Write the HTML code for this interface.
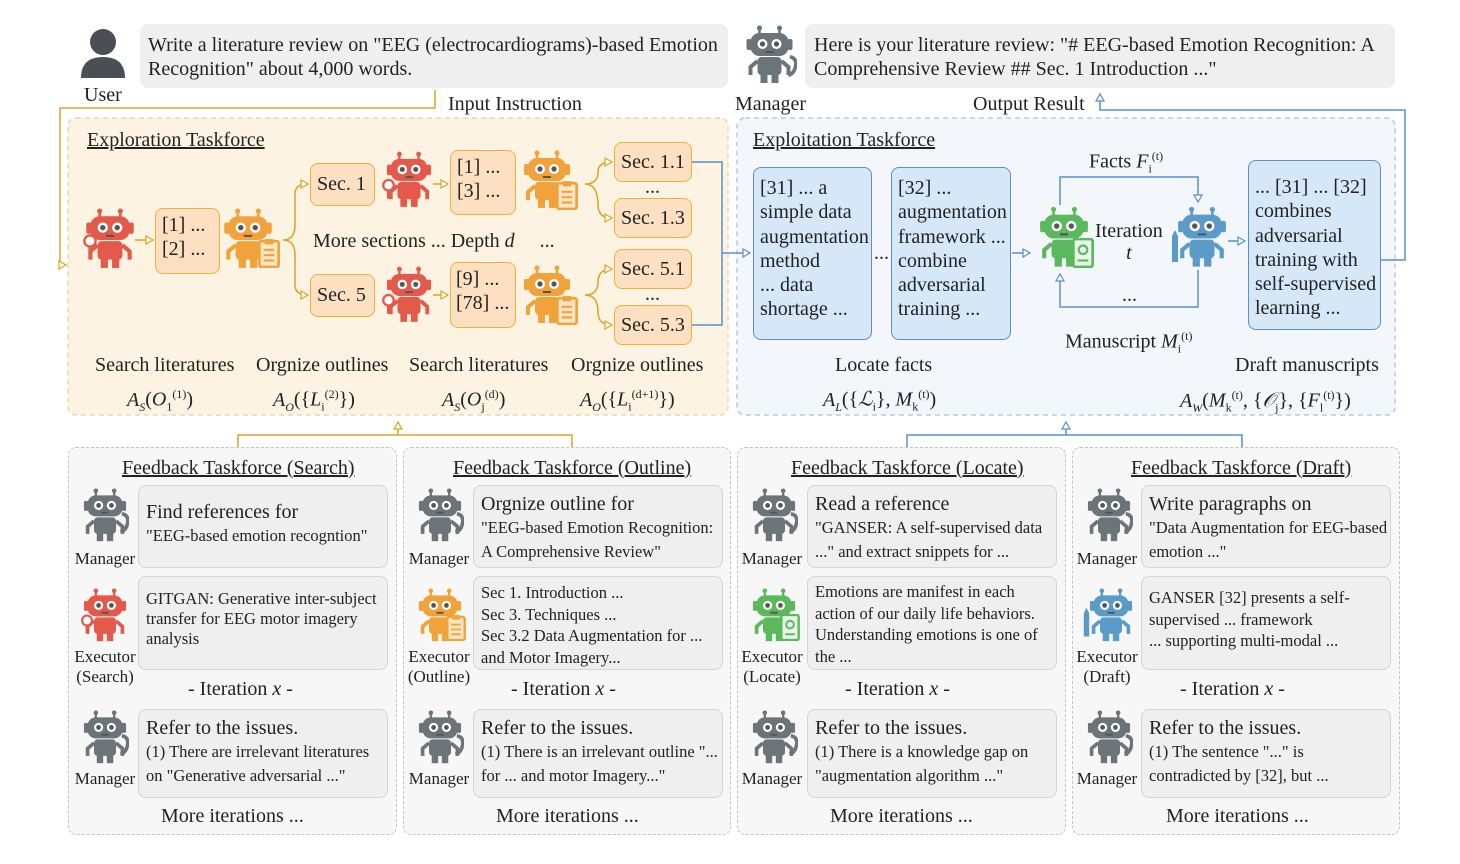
<!DOCTYPE html>
<html><head><meta charset="utf-8"><style>
body{margin:0;width:1460px;height:864px;background:#fff;position:relative;overflow:hidden;font-family:"Liberation Serif",serif;color:#222}
.a{position:absolute}
.t{position:absolute;white-space:nowrap;font-size:20px;line-height:22px}
.u{text-decoration:underline}
.ob{position:absolute;background:#fde0c2;border:1.5px solid #e8b23c;border-radius:8px;font-size:20px;line-height:24px;box-sizing:border-box;padding:4px 6px;white-space:nowrap}
.bb{position:absolute;background:#d6e7f8;border:1.5px solid #5b8fc9;border-radius:8px;font-size:20px;line-height:24.3px;box-sizing:border-box;padding:8px 6px;white-space:nowrap}
.gb{position:absolute;background:#efefef;border:1.5px solid #d4d4d4;border-radius:8px;box-sizing:border-box;padding:6px 7px;font-size:16.5px;line-height:24px;white-space:nowrap}
.gb b{font-weight:normal;font-size:20px;display:block;line-height:24px}
.fp{position:absolute;top:447px;height:388px;background:#f7f7f7;border:1.5px dashed #c4c4c4;border-radius:8px;box-sizing:border-box}
.lbl{position:absolute;font-size:17px;line-height:20px;text-align:center;width:70px}
i{font-style:italic}
sup,sub{font-size:12px}
</style></head><body>
<svg class="a" style="left:0;top:0" width="1460" height="864">
<defs>
<symbol id="r" viewBox="0 0 50 60">
<line x1="15" y1="2" x2="15" y2="9" stroke="currentColor" stroke-width="2.5"/><line x1="35" y1="2" x2="35" y2="9" stroke="currentColor" stroke-width="2.5"/>
<circle cx="15" cy="3" r="2.5" fill="currentColor"/><circle cx="35" cy="3" r="2.5" fill="currentColor"/>
<rect x="2" y="14" width="5" height="11" rx="2" fill="currentColor"/><rect x="43" y="14" width="5" height="11" rx="2" fill="currentColor"/>
<rect x="6" y="8" width="38" height="23" rx="9" fill="currentColor"/>
<circle cx="18" cy="19" r="5" fill="#fff"/><circle cx="32" cy="19" r="5" fill="#fff"/>
<circle cx="18" cy="19" r="2.6" fill="#555"/><circle cx="32" cy="19" r="2.6" fill="#555"/>
<rect x="21" y="26" width="8" height="2" fill="#555"/>
<rect x="13" y="32" width="24" height="18" rx="4" fill="currentColor"/>
<path d="M13 36 L6 42 L6 50 M37 36 L44 42 L44 50" stroke="currentColor" stroke-width="4" fill="none"/>
<rect x="16" y="49" width="7" height="9" fill="currentColor"/><rect x="27" y="49" width="7" height="9" fill="currentColor"/>
</symbol>
<symbol id="mag" viewBox="0 0 20 30"><circle cx="10" cy="10" r="7" fill="#fff" stroke="currentColor" stroke-width="3"/><rect x="8" y="17" width="4" height="11" fill="currentColor"/></symbol>
<symbol id="clip" viewBox="0 0 20 28"><rect x="1" y="3" width="18" height="24" rx="2" fill="#fde7c8" stroke="currentColor" stroke-width="2.5"/><rect x="6" y="1" width="8" height="5" fill="currentColor"/><path d="M5 11h10M5 16h10M5 21h10" stroke="currentColor" stroke-width="2"/></symbol>
<symbol id="ph" viewBox="0 0 14 30"><path d="M4 2 Q14 4 12 15 Q10 26 2 28" stroke="currentColor" stroke-width="5" fill="none"/></symbol>
<symbol id="doc" viewBox="0 0 20 28"><rect x="1" y="1" width="18" height="26" rx="2" fill="#e8f5e8" stroke="currentColor" stroke-width="2.5"/><circle cx="10" cy="11" r="4" fill="none" stroke="currentColor" stroke-width="2"/><path d="M5 21h10" stroke="currentColor" stroke-width="2"/></symbol>
<symbol id="pen" viewBox="0 0 10 34"><path d="M2 6 L5 0 L8 6 L8 32 L2 32Z" fill="currentColor"/></symbol>
<marker id="ao" markerWidth="10" markerHeight="10" refX="8" refY="5" orient="auto" markerUnits="userSpaceOnUse"><path d="M1 1 L8 5 L1 9Z" fill="#fff" stroke="#d9a520" stroke-width="1.2"/></marker>
<marker id="ab" markerWidth="10" markerHeight="10" refX="8" refY="5" orient="auto" markerUnits="userSpaceOnUse"><path d="M1 1 L8 5 L1 9Z" fill="#fff" stroke="#5b8fc9" stroke-width="1.2"/></marker>
</defs>
<rect x="68" y="118" width="660" height="297" rx="8" fill="#fdf3e2" stroke="#ead7ad" stroke-width="1.5" stroke-dasharray="5 4"/>
<rect x="737" y="118" width="658" height="297" rx="8" fill="#f3f6fb" stroke="#bccade" stroke-width="1.5" stroke-dasharray="5 4"/>
<rect x="140" y="24" width="588" height="64" rx="8" fill="#efefef"/>
<rect x="805" y="24" width="590" height="64" rx="8" fill="#efefef"/>
<circle cx="103" cy="42" r="13" fill="#4a4f55"/><path d="M81 78 Q81 57 103 57 Q125 57 125 78Z" fill="#4a4f55"/>
<use href="#r" x="742" y="25" width="55" height="60" color="#6b7479"/><use href="#ph" x="787" y="55" width="10" height="22" color="#6b7479"/>
<g fill="none" stroke="#d9a520" stroke-width="1.5">
<path d="M435 90 V108 H60 V265 H66" marker-end="url(#ao)"/>
<path d="M135 240 H153" marker-end="url(#ao)"/>
<path d="M283 240 Q295 240 295 225 V194 Q295 184 308 184" marker-end="url(#ao)"/>
<path d="M283 240 Q295 240 295 255 V285 Q295 295 308 295" marker-end="url(#ao)"/>
<path d="M433 184 H448" marker-end="url(#ao)"/><path d="M433 295 H448" marker-end="url(#ao)"/>
<path d="M585 184 Q598 184 598 172 Q598 162 612 162" marker-end="url(#ao)"/>
<path d="M585 184 Q598 184 598 205 Q598 218 612 218" marker-end="url(#ao)"/>
<path d="M585 295 Q598 295 598 282 Q598 269 612 269" marker-end="url(#ao)"/>
<path d="M585 295 Q598 295 598 312 Q598 325 612 325" marker-end="url(#ao)"/>
<path d="M238 447 V435 H572 V447"/><path d="M398 435 V422" marker-end="url(#ao)"/>
</g>
<g fill="none" stroke="#5b8fc9" stroke-width="1.5">
<path d="M692 162 H722 V325 H692"/><path d="M722 253 H750" marker-end="url(#ab)"/>
<path d="M1012 253 H1030" marker-end="url(#ab)"/>
<path d="M1060 205 V177 H1198 V202" marker-end="url(#ab)"/>
<path d="M1198 270 V307 H1060 V274" marker-end="url(#ab)"/>
<path d="M1228 241 H1245" marker-end="url(#ab)"/>
<path d="M1380 260 H1405 V110 H1100 V94" marker-end="url(#ab)"/>
<path d="M907 447 V435 H1242 V447"/><path d="M1066 435 V422" marker-end="url(#ab)"/>
</g>
<g>
<use href="#r" x="84" y="208" width="52" height="62" color="#e35a4a"/><use href="#mag" x="82" y="232" width="16" height="26" color="#e35a4a"/>
<use href="#r" x="222" y="208" width="52" height="62" color="#f2a23a"/><use href="#clip" x="258" y="238" width="22" height="30" color="#f2a23a"/>
<use href="#r" x="385" y="150" width="48" height="60" color="#e35a4a"/><use href="#mag" x="381" y="176" width="15" height="26" color="#e35a4a"/>
<use href="#r" x="385" y="265" width="48" height="60" color="#e35a4a"/><use href="#mag" x="381" y="291" width="15" height="26" color="#e35a4a"/>
<use href="#r" x="522" y="150" width="50" height="60" color="#f2a23a"/><use href="#clip" x="556" y="180" width="22" height="30" color="#f2a23a"/>
<use href="#r" x="522" y="265" width="50" height="60" color="#f2a23a"/><use href="#clip" x="556" y="295" width="22" height="30" color="#f2a23a"/>
<use href="#r" x="1038" y="205" width="52" height="65" color="#5cb85c"/><use href="#doc" x="1072" y="238" width="22" height="30" color="#5cb85c"/>
<use href="#r" x="1176" y="205" width="52" height="65" color="#5b9bc9"/><use href="#pen" x="1170" y="228" width="10" height="38" color="#5b9bc9"/>
</g>
</svg>
<div class="t" style="left:148px;top:34px">Write a literature review on "EEG (electrocardiograms)-based Emotion</div>
<div class="t" style="left:148px;top:58px">Recognition" about 4,000 words.</div>
<div class="t" style="left:84px;top:84px">User</div>
<div class="t" style="left:814px;top:34px">Here is your literature review: "# EEG-based Emotion Recognition: A</div>
<div class="t" style="left:814px;top:58px">Comprehensive Review ## Sec. 1 Introduction ..."</div>
<div class="t" style="left:735px;top:93px">Manager</div>
<div class="t" style="left:448px;top:93px">Input Instruction</div>
<div class="t" style="left:973px;top:93px">Output Result</div>
<div class="t u" style="left:87px;top:129px">Exploration Taskforce</div>
<div class="ob" style="left:155px;top:208px;width:65px;height:66px">[1] ...<br>[2] ...</div>
<div class="ob" style="left:310px;top:163px;width:65px;height:43px;padding-top:8px">Sec. 1</div>
<div class="ob" style="left:310px;top:274px;width:65px;height:43px;padding-top:8px">Sec. 5</div>
<div class="ob" style="left:450px;top:150px;width:66px;height:65px">[1] ...<br>[3] ...</div>
<div class="ob" style="left:450px;top:262px;width:66px;height:66px;padding-left:5px">[9] ...<br>[78] ...</div>
<div class="ob" style="left:614px;top:142px;width:78px;height:40px;padding-top:7px">Sec. 1.1</div>
<div class="ob" style="left:614px;top:198px;width:78px;height:40px;padding-top:7px">Sec. 1.3</div>
<div class="ob" style="left:614px;top:249px;width:78px;height:40px;padding-top:7px">Sec. 5.1</div>
<div class="ob" style="left:614px;top:305px;width:78px;height:40px;padding-top:7px">Sec. 5.3</div>
<div class="t" style="left:645px;top:176px">...</div><div class="t" style="left:645px;top:283px">...</div>
<div class="t" style="left:313px;top:230px">More sections ... Depth <i>d</i> &nbsp;&nbsp;&nbsp; ...</div>
<div class="t" style="left:95px;top:354px">Search literatures</div>
<div class="t" style="left:256px;top:354px">Orgnize outlines</div>
<div class="t" style="left:409px;top:354px">Search literatures</div>
<div class="t" style="left:571px;top:354px">Orgnize outlines</div>
<div class="t" style="left:127px;top:383px"><i>A<sub>S</sub></i>(<i>O</i><sub>1</sub><sup>(1)</sup>)</div>
<div class="t" style="left:273px;top:383px"><i>A<sub>O</sub></i>({<i>L</i><sub>i</sub><sup>(2)</sup>})</div>
<div class="t" style="left:442px;top:383px"><i>A<sub>S</sub></i>(<i>O</i><sub>j</sub><sup>(d)</sup>)</div>
<div class="t" style="left:580px;top:383px"><i>A<sub>O</sub></i>({<i>L</i><sub>i</sub><sup>(d+1)</sup>})</div>
<div class="t u" style="left:753px;top:129px">Exploitation Taskforce</div>
<div class="bb" style="left:753px;top:167px;width:119px;height:173px">[31] ... a<br>simple data<br>augmentation<br>method<br>... data<br>shortage ...</div>
<div class="t" style="left:874px;top:242px">...</div>
<div class="bb" style="left:891px;top:167px;width:120px;height:173px">[32] ...<br>augmentation<br>framework ...<br>combine<br>adversarial<br>training ...</div>
<div class="bb" style="left:1248px;top:160px;width:133px;height:170px;padding-top:14px">... [31] ... [32]<br>combines<br>adversarial<br>training with<br>self-supervised<br>learning ...</div>
<div class="t" style="left:1089px;top:145px">Facts <i>F</i><sub>i</sub><sup>(t)</sup></div>
<div class="t" style="left:1095px;top:220px;text-align:center">Iteration<br><i>t</i></div>
<div class="t" style="left:1122px;top:284px">...</div>
<div class="t" style="left:1065px;top:325px">Manuscript <i>M</i><sub>i</sub><sup>(t)</sup></div>
<div class="t" style="left:835px;top:354px">Locate facts</div>
<div class="t" style="left:823px;top:383px"><i>A<sub>L</sub></i>({<i>ℒ</i><sub>i</sub>}, <i>M</i><sub>k</sub><sup>(t)</sup>)</div>
<div class="t" style="left:1235px;top:354px">Draft manuscripts</div>
<div class="t" style="left:1180px;top:384px"><i>A<sub>W</sub></i>(<i>M</i><sub>k</sub><sup>(t)</sup>, {<i>𝒪</i><sub>j</sub>}, {<i>F</i><sub>l</sub><sup>(t)</sup>})</div>

<div class="fp" style="left:68px;width:329px"></div>
<div class="fp" style="left:403px;width:328px"></div>
<div class="fp" style="left:737px;width:329px"></div>
<div class="fp" style="left:1072px;width:328px"></div>
<svg class="a" style="left:0;top:0" width="1460" height="864">
<g id="fr">
<use href="#r" x="82" y="488" width="46" height="55" color="#6b7479"/><use href="#ph" x="119" y="512" width="10" height="22" color="#6b7479"/>
<use href="#r" x="82" y="710" width="46" height="55" color="#6b7479"/><use href="#ph" x="119" y="734" width="10" height="22" color="#6b7479"/>
</g>
<use href="#fr" x="335"/><use href="#fr" x="669"/><use href="#fr" x="1004"/>
<use href="#r" x="82" y="588" width="46" height="55" color="#e35a4a"/><use href="#mag" x="80" y="612" width="14" height="24" color="#e35a4a"/>
<use href="#r" x="417" y="588" width="46" height="55" color="#f2a23a"/><use href="#clip" x="446" y="614" width="20" height="27" color="#f2a23a"/>
<use href="#r" x="751" y="588" width="46" height="55" color="#5cb85c"/><use href="#doc" x="780" y="614" width="20" height="27" color="#5cb85c"/>
<use href="#r" x="1088" y="588" width="46" height="55" color="#5b9bc9"/><use href="#pen" x="1082" y="606" width="9" height="34" color="#5b9bc9"/>
</svg>

<div class="t u" style="left:122px;top:457px">Feedback Taskforce (Search)</div>
<div class="t u" style="left:453px;top:457px">Feedback Taskforce (Outline)</div>
<div class="t u" style="left:791px;top:457px">Feedback Taskforce (Locate)</div>
<div class="t u" style="left:1131px;top:457px">Feedback Taskforce (Draft)</div>

<div class="lbl" style="left:70px;top:549px">Manager</div>
<div class="lbl" style="left:70px;top:647px">Executor<br>(Search)</div>
<div class="lbl" style="left:70px;top:769px">Manager</div>
<div class="gb" style="left:138px;top:485px;width:250px;height:83px;padding-top:14px"><b>Find references for</b>"EEG-based emotion recogntion"</div>
<div class="gb" style="left:138px;top:576px;width:250px;height:94px;padding-top:12px;line-height:20px">GITGAN: Generative inter-subject<br>transfer for EEG motor imagery<br>analysis</div>
<div class="t" style="left:188px;top:678px">- Iteration <i>x</i> -</div>
<div class="gb" style="left:138px;top:709px;width:250px;height:89px"><b>Refer to the issues.</b>(1) There are irrelevant literatures<br>on "Generative adversarial ..."</div>
<div class="t" style="left:161px;top:805px">More iterations ...</div>

<div class="lbl" style="left:404px;top:549px">Manager</div>
<div class="lbl" style="left:404px;top:647px">Executor<br>(Outline)</div>
<div class="lbl" style="left:404px;top:769px">Manager</div>
<div class="gb" style="left:473px;top:485px;width:250px;height:83px"><b>Orgnize outline for</b>"EEG-based Emotion Recognition:<br>A Comprehensive Review"</div>
<div class="gb" style="left:473px;top:576px;width:250px;height:94px;padding-top:5px;line-height:21.5px">Sec 1. Introduction ...<br>Sec 3. Techniques ...<br>Sec 3.2 Data Augmentation for ...<br>and Motor Imagery...</div>
<div class="t" style="left:511px;top:678px">- Iteration <i>x</i> -</div>
<div class="gb" style="left:473px;top:709px;width:250px;height:89px"><b>Refer to the issues.</b>(1) There is an irrelevant outline "...<br>for ... and motor Imagery..."</div>
<div class="t" style="left:496px;top:805px">More iterations ...</div>

<div class="lbl" style="left:737px;top:549px">Manager</div>
<div class="lbl" style="left:737px;top:647px">Executor<br>(Locate)</div>
<div class="lbl" style="left:737px;top:769px">Manager</div>
<div class="gb" style="left:807px;top:485px;width:250px;height:83px"><b>Read a reference</b>"GANSER: A self-supervised data<br>..." and extract snippets for ...</div>
<div class="gb" style="left:807px;top:576px;width:250px;height:94px;padding-top:4px;line-height:21.5px">Emotions are manifest in each<br>action of our daily life behaviors.<br>Understanding emotions is one of<br>the ...</div>
<div class="t" style="left:845px;top:678px">- Iteration <i>x</i> -</div>
<div class="gb" style="left:807px;top:709px;width:250px;height:89px"><b>Refer to the issues.</b>(1) There is a knowledge gap on<br>"augmentation algorithm ..."</div>
<div class="t" style="left:830px;top:805px">More iterations ...</div>

<div class="lbl" style="left:1072px;top:549px">Manager</div>
<div class="lbl" style="left:1072px;top:647px">Executor<br>(Draft)</div>
<div class="lbl" style="left:1072px;top:769px">Manager</div>
<div class="gb" style="left:1141px;top:485px;width:250px;height:83px"><b>Write paragraphs on</b>"Data Augmentation for EEG-based<br>emotion ..."</div>
<div class="gb" style="left:1141px;top:576px;width:250px;height:94px;padding-top:10px;line-height:21.5px">GANSER [32] presents a self-<br>supervised ... framework<br>... supporting multi-modal ...</div>
<div class="t" style="left:1180px;top:678px">- Iteration <i>x</i> -</div>
<div class="gb" style="left:1141px;top:709px;width:250px;height:89px"><b>Refer to the issues.</b>(1) The sentence "..." is<br>contradicted by [32], but ...</div>
<div class="t" style="left:1166px;top:805px">More iterations ...</div>
</body></html>
